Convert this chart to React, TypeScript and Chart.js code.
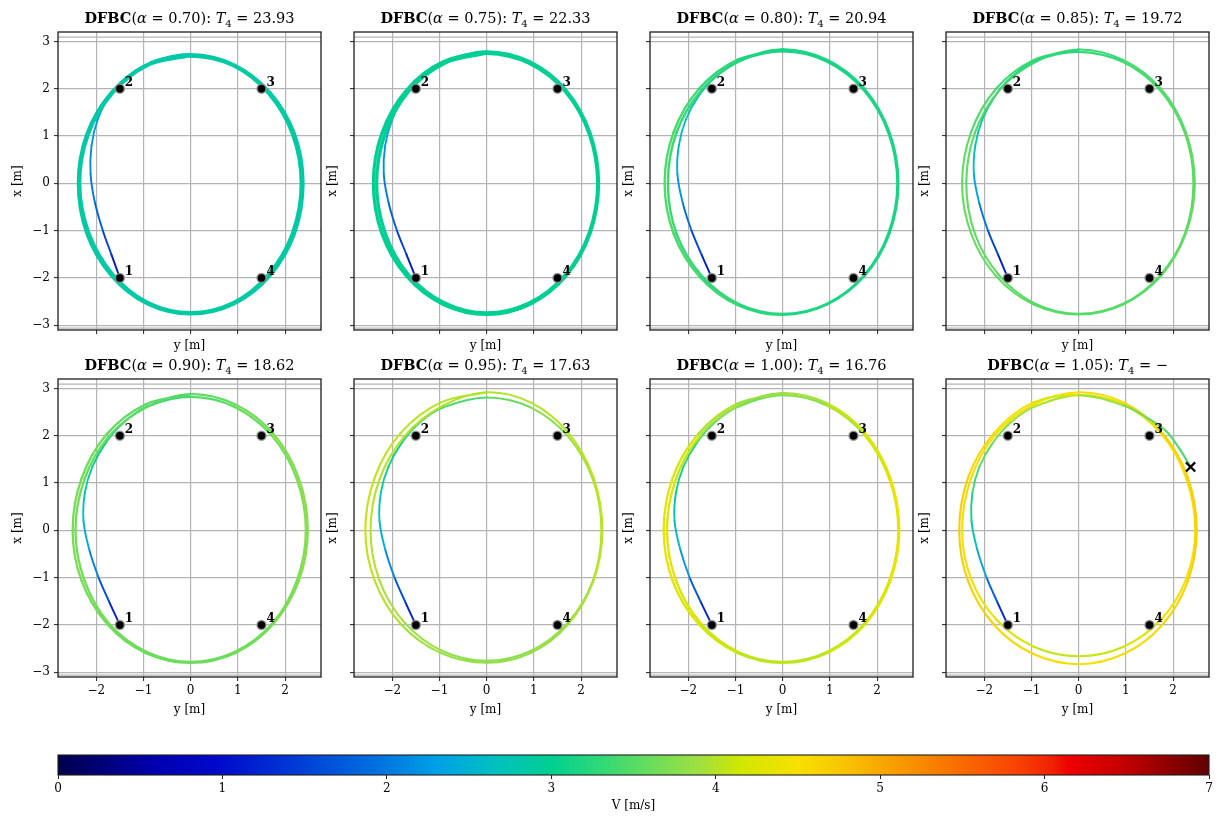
import React, { useEffect, useRef } from 'react';
import { Chart, registerables } from 'chart.js';

Chart.register(...registerables);

// ---------------- data ----------------
const alphaLabels = ['0.70', '0.75', '0.80', '0.85', '0.90', '0.95', '1.00', '1.05'];
const finishTimes = ['23.93', '22.33', '20.94', '19.72', '18.62', '17.63', '16.76', '\u2212'];
const xTickValues = [-2, -1, 0, 1, 2];
const yTickValues = [-3, -2, -1, 0, 1, 2, 3];
const wallLines = [3.09, -3.06];
const waypointY = [-1.5, -1.5, 1.5, 1.5];
const waypointX = [-2, 2, 2, -2];
const waypointLabels = ['1', '2', '3', '4'];
const crashPoint = [2.37, 1.34];
const colorbarTicks = [0, 1, 2, 3, 4, 5, 6, 7];

const cmapStops: [number, string][] = [
  [0.0, '#00004c'], [0.6, '#0000b0'], [0.95, '#0008c8'], [1.35, '#0030d4'],
  [2.0, '#0078e0'], [2.3, '#00a0e8'], [2.65, '#00c0c0'], [3.0, '#00d090'],
  [3.3, '#30d878'], [3.55, '#60dc60'], [3.9, '#a0e040'], [4.15, '#d0e800'],
  [4.5, '#f8e000'], [4.75, '#f8c800'], [5.0, '#f8a800'], [5.45, '#f87000'],
  [5.85, '#f84000'], [6.05, '#f02000'], [6.15, '#ee0000'], [6.45, '#c80000'],
  [7.0, '#600000'],
];

// trajectories: [y, x, V]; the first 10 points are the approach from waypoint 1
const traj070 = [
  [-1.50, -2.00, 0.95], [-1.68, -1.50, 1.30], [-1.86, -1.00, 1.65], [-2.03, -0.40, 1.95],
  [-2.12, 0.20, 2.10], [-2.10, 0.80, 2.20], [-1.97, 1.35, 2.28], [-1.72, 1.85, 2.35],
  [-1.35, 2.25, 2.42], [-0.85, 2.55, 2.55],
  [0.00, 2.72, 2.80], [0.91, 2.51, 2.86], [1.68, 1.92, 2.86], [2.20, 1.04, 2.86],
  [2.38, 0.00, 2.86], [2.20, -1.06, 2.86], [1.68, -1.95, 2.86], [0.91, -2.55, 2.86],
  [0.00, -2.76, 2.86], [-0.91, -2.55, 2.86], [-1.68, -1.95, 2.86], [-2.20, -1.06, 2.86],
  [-2.38, 0.00, 2.86], [-2.20, 1.04, 2.86], [-1.68, 1.92, 2.86], [-0.91, 2.51, 2.86],
  [0.00, 2.69, 2.86], [0.90, 2.49, 2.86], [1.65, 1.90, 2.86], [2.16, 1.03, 2.86],
  [2.34, 0.00, 2.86], [2.16, -1.04, 2.86], [1.65, -1.92, 2.86], [0.90, -2.52, 2.86],
  [0.00, -2.73, 2.86], [-0.90, -2.52, 2.86], [-1.65, -1.92, 2.86], [-2.16, -1.04, 2.86],
  [-2.35, 0.00, 2.86], [-2.17, 1.03, 2.86], [-1.66, 1.90, 2.86], [-0.90, 2.50, 2.86],
  [0.00, 2.70, 2.86],
];

const traj075 = [
  [-1.50, -2.00, 0.95], [-1.70, -1.50, 1.30], [-1.90, -1.00, 1.65], [-2.08, -0.40, 1.95],
  [-2.18, 0.20, 2.12], [-2.15, 0.80, 2.25], [-2.00, 1.35, 2.35], [-1.75, 1.85, 2.45],
  [-1.38, 2.25, 2.60], [-0.88, 2.56, 2.80],
  [0.00, 2.78, 2.95], [0.91, 2.57, 2.97], [1.68, 1.97, 2.97], [2.19, 1.06, 2.97],
  [2.37, 0.00, 2.97], [2.19, -1.06, 2.97], [1.68, -1.96, 2.97], [0.91, -2.56, 2.97],
  [0.00, -2.77, 2.97], [-0.92, -2.56, 2.97], [-1.70, -1.96, 2.97], [-2.22, -1.06, 2.97],
  [-2.40, 0.00, 2.97], [-2.22, 1.06, 2.97], [-1.70, 1.97, 2.97], [-0.92, 2.57, 2.97],
  [0.00, 2.75, 2.97], [0.90, 2.54, 2.97], [1.66, 1.95, 2.97], [2.17, 1.05, 2.97],
  [2.35, 0.00, 2.97], [2.17, -1.05, 2.97], [1.66, -1.94, 2.97], [0.90, -2.53, 2.97],
  [0.00, -2.74, 2.97], [-0.89, -2.53, 2.97], [-1.65, -1.94, 2.97], [-2.15, -1.05, 2.97],
  [-2.33, 0.00, 2.97], [-2.15, 1.05, 2.97], [-1.65, 1.95, 2.97], [-0.89, 2.54, 2.97],
  [0.00, 2.75, 2.97],
];

const traj080 = [
  [-1.50, -2.00, 0.95], [-1.72, -1.50, 1.35], [-1.93, -1.00, 1.75], [-2.12, -0.40, 2.10],
  [-2.23, 0.20, 2.35], [-2.20, 0.80, 2.55], [-2.05, 1.35, 2.70], [-1.78, 1.85, 2.85],
  [-1.40, 2.27, 3.00], [-0.90, 2.60, 3.10],
  [0.00, 2.79, 3.15], [0.93, 2.58, 3.15], [1.72, 1.97, 3.15], [2.24, 1.07, 3.15],
  [2.43, 0.00, 3.15], [2.24, -1.06, 3.15], [1.72, -1.95, 3.15], [0.93, -2.55, 3.18],
  [0.00, -2.76, 3.20], [-0.93, -2.55, 3.25], [-1.72, -1.95, 3.30], [-2.25, -1.06, 3.35],
  [-2.43, 0.00, 3.38], [-2.25, 1.07, 3.35], [-1.72, 1.97, 3.28], [-0.93, 2.58, 3.20],
  [0.00, 2.83, 3.15], [0.94, 2.61, 3.15], [1.73, 2.00, 3.15], [2.26, 1.08, 3.15],
  [2.45, 0.00, 3.15], [2.26, -1.06, 3.15], [1.73, -1.96, 3.15], [0.94, -2.56, 3.18],
  [0.00, -2.78, 3.20], [-0.96, -2.57, 3.30], [-1.77, -1.96, 3.40], [-2.31, -1.06, 3.45],
  [-2.50, 0.00, 3.48], [-2.31, 1.08, 3.45], [-1.77, 2.00, 3.35], [-0.96, 2.61, 3.22],
  [0.00, 2.83, 3.15],
];

const traj085 = [
  [-1.50, -2.00, 0.95], [-1.71, -1.50, 1.35], [-1.92, -1.00, 1.80], [-2.11, -0.40, 2.20],
  [-2.22, 0.20, 2.50], [-2.19, 0.80, 2.75], [-2.04, 1.35, 2.90], [-1.77, 1.85, 3.00],
  [-1.40, 2.27, 3.10], [-0.90, 2.60, 3.20],
  [0.00, 2.78, 3.28], [0.93, 2.57, 3.35], [1.72, 1.97, 3.45], [2.25, 1.06, 3.50],
  [2.43, 0.00, 3.52], [2.25, -1.06, 3.52], [1.72, -1.95, 3.50], [0.93, -2.55, 3.48],
  [0.00, -2.76, 3.48], [-0.91, -2.55, 3.50], [-1.68, -1.95, 3.52], [-2.20, -1.06, 3.55],
  [-2.38, 0.00, 3.55], [-2.20, 1.06, 3.50], [-1.68, 1.97, 3.40], [-0.91, 2.57, 3.32],
  [0.00, 2.83, 3.30], [0.94, 2.61, 3.38], [1.74, 2.00, 3.48], [2.27, 1.08, 3.52],
  [2.46, 0.00, 3.55], [2.27, -1.06, 3.55], [1.74, -1.96, 3.52], [0.94, -2.56, 3.50],
  [0.00, -2.77, 3.50], [-0.95, -2.56, 3.52], [-1.75, -1.96, 3.55], [-2.28, -1.06, 3.58],
  [-2.47, 0.00, 3.58], [-2.28, 1.08, 3.52], [-1.75, 2.00, 3.42], [-0.95, 2.61, 3.32],
  [0.00, 2.83, 3.30],
];

const traj090 = [
  [-1.50, -2.00, 0.95], [-1.73, -1.50, 1.40], [-1.95, -1.00, 1.90], [-2.15, -0.40, 2.30],
  [-2.27, 0.20, 2.60], [-2.24, 0.80, 2.80], [-2.08, 1.35, 2.95], [-1.80, 1.85, 3.05],
  [-1.42, 2.28, 3.15], [-0.92, 2.62, 3.30],
  [0.00, 2.82, 3.45], [0.93, 2.61, 3.55], [1.73, 1.99, 3.65], [2.25, 1.08, 3.72],
  [2.44, 0.00, 3.75], [2.25, -1.06, 3.72], [1.73, -1.97, 3.65], [0.93, -2.57, 3.60],
  [0.00, -2.78, 3.58], [-0.93, -2.57, 3.60], [-1.73, -1.97, 3.62], [-2.25, -1.06, 3.65],
  [-2.44, 0.00, 3.65], [-2.25, 1.08, 3.62], [-1.73, 1.99, 3.55], [-0.93, 2.61, 3.50],
  [0.00, 2.88, 3.50], [0.95, 2.66, 3.60], [1.75, 2.04, 3.68], [2.29, 1.10, 3.75],
  [2.48, 0.00, 3.78], [2.29, -1.07, 3.75], [1.75, -1.98, 3.68], [0.95, -2.59, 3.62],
  [0.00, -2.80, 3.60], [-0.96, -2.59, 3.62], [-1.77, -1.98, 3.65], [-2.31, -1.07, 3.68],
  [-2.50, 0.00, 3.68], [-2.31, 1.10, 3.65], [-1.77, 2.04, 3.58], [-0.96, 2.66, 3.52],
  [0.00, 2.88, 3.50],
];

const traj095 = [
  [-1.50, -2.00, 0.95], [-1.73, -1.50, 1.40], [-1.95, -1.00, 1.90], [-2.15, -0.40, 2.35],
  [-2.27, 0.20, 2.65], [-2.24, 0.80, 2.85], [-2.08, 1.35, 3.00], [-1.80, 1.85, 3.10],
  [-1.42, 2.28, 3.20], [-0.92, 2.60, 3.35],
  [0.00, 2.81, 3.50], [0.93, 2.60, 3.65], [1.72, 1.99, 3.85], [2.25, 1.08, 3.95],
  [2.43, 0.00, 4.00], [2.25, -1.06, 3.95], [1.72, -1.95, 3.85], [0.93, -2.55, 3.80],
  [0.00, -2.76, 3.78], [-0.94, -2.55, 3.82], [-1.74, -1.95, 3.90], [-2.27, -1.06, 3.98],
  [-2.46, 0.00, 4.02], [-2.27, 1.08, 4.02], [-1.74, 1.99, 4.00], [-0.94, 2.63, 3.98],
  [0.00, 2.92, 3.98], [0.94, 2.70, 4.00], [1.73, 2.06, 4.02], [2.26, 1.12, 4.05],
  [2.45, 0.00, 4.05], [2.26, -1.07, 4.00], [1.73, -1.98, 3.90], [0.94, -2.59, 3.82],
  [0.00, -2.80, 3.80], [-0.98, -2.59, 3.85], [-1.82, -1.98, 3.95], [-2.37, -1.07, 4.05],
  [-2.57, 0.00, 4.08], [-2.37, 1.12, 4.08], [-1.82, 2.06, 4.05], [-0.98, 2.70, 4.00],
  [0.00, 2.92, 3.98],
];

const traj100 = [
  [-1.50, -2.00, 0.95], [-1.74, -1.50, 1.45], [-1.97, -1.00, 2.00], [-2.17, -0.40, 2.45],
  [-2.29, 0.20, 2.75], [-2.26, 0.80, 2.95], [-2.10, 1.35, 3.10], [-1.82, 1.85, 3.25],
  [-1.44, 2.28, 3.40], [-0.93, 2.62, 3.55],
  [0.00, 2.86, 3.70], [0.94, 2.64, 3.85], [1.73, 2.02, 4.05], [2.26, 1.09, 4.25],
  [2.45, 0.00, 4.35], [2.26, -1.06, 4.30], [1.73, -1.97, 4.15], [0.94, -2.57, 4.05],
  [0.00, -2.78, 4.00], [-0.94, -2.57, 4.05], [-1.73, -1.97, 4.15], [-2.26, -1.06, 4.28],
  [-2.45, 0.00, 4.32], [-2.26, 1.09, 4.20], [-1.73, 2.02, 3.95], [-0.94, 2.64, 3.80],
  [0.00, 2.90, 3.85], [0.95, 2.68, 4.00], [1.75, 2.05, 4.20], [2.28, 1.11, 4.38],
  [2.47, 0.00, 4.42], [2.28, -1.07, 4.35], [1.75, -1.98, 4.20], [0.95, -2.59, 4.08],
  [0.00, -2.80, 4.02], [-0.96, -2.59, 4.08], [-1.78, -1.98, 4.20], [-2.33, -1.07, 4.35],
  [-2.52, 0.00, 4.40], [-2.33, 1.11, 4.30], [-1.78, 2.05, 4.05], [-0.96, 2.68, 3.90],
  [0.00, 2.90, 3.85],
];

const traj105 = [
  [-1.50, -2.00, 0.95], [-1.73, -1.50, 1.50], [-1.95, -1.00, 2.10], [-2.15, -0.40, 2.60],
  [-2.27, 0.20, 3.00], [-2.25, 0.80, 3.25], [-2.10, 1.35, 3.45], [-1.82, 1.85, 3.60],
  [-1.44, 2.28, 3.75], [-0.93, 2.62, 3.90],
  [0.00, 2.86, 4.05], [0.95, 2.66, 4.25], [1.75, 2.04, 4.45], [2.28, 1.10, 4.55],
  [2.47, 0.00, 4.58], [2.28, -1.02, 4.50], [1.75, -1.88, 4.35], [0.95, -2.46, 4.15],
  [0.00, -2.66, 4.05], [-0.95, -2.46, 4.10], [-1.75, -1.88, 4.30], [-2.28, -1.02, 4.50],
  [-2.47, 0.00, 4.55], [-2.28, 1.10, 4.55], [-1.75, 2.04, 4.50], [-0.95, 2.66, 4.45],
  [0.00, 2.92, 4.50], [0.96, 2.70, 4.58], [1.77, 2.06, 4.65], [2.31, 1.12, 4.68],
  [2.50, 0.00, 4.68], [2.31, -1.08, 4.65], [1.77, -2.00, 4.58], [0.96, -2.61, 4.52],
  [0.00, -2.83, 4.50], [-0.97, -2.61, 4.55], [-1.79, -2.00, 4.62], [-2.34, -1.08, 4.68],
  [-2.53, 0.00, 4.70], [-2.34, 1.12, 4.65], [-1.79, 2.06, 4.55], [-0.97, 2.70, 4.35],
  [0.00, 2.86, 4.05], [0.95, 2.64, 3.75], [1.45, 2.38, 3.60], [1.85, 2.10, 3.50],
  [2.15, 1.70, 3.45], [2.37, 1.34, 3.40],
];

const trajectories = [traj070, traj075, traj080, traj085, traj090, traj095, traj100, traj105];
const approachLength = 10;

// ---------------- layout / style ----------------
const panelLefts = [58, 354, 650, 946];
const rowTops = [32, 379];
const PW = 263;
const PH = 298;
const PAD_L = 50;
const PAD_T = 32;
const PAD_R = 12;
const PAD_B = 45;
const X_MIN = -2.81;
const X_MAX = 2.76;
const Y_MIN = -3.1;
const Y_MAX = 3.2;
const loopWidths = [3.2, 3.2, 2.4, 2.1, 2.3, 2.1, 2.3, 2.1];
const approachWidth = 1.9;
const SERIF = '"DejaVu Serif", "Liberation Serif", serif';

function hexToRgb(h: string) {
  const n = parseInt(h.slice(1), 16);
  return [(n >> 16) & 255, (n >> 8) & 255, n & 255];
}

function cmap(v: number) {
  const s = cmapStops;
  if (v <= s[0][0]) return s[0][1];
  if (v >= s[s.length - 1][0]) return s[s.length - 1][1];
  for (let i = 0; i < s.length - 1; i++) {
    if (v >= s[i][0] && v <= s[i + 1][0]) {
      const t = (v - s[i][0]) / (s[i + 1][0] - s[i][0]);
      const a = hexToRgb(s[i][1]);
      const b = hexToRgb(s[i + 1][1]);
      const c = a.map((av, k) => Math.round(av + (b[k] - av) * t));
      return `rgb(${c[0]},${c[1]},${c[2]})`;
    }
  }
  return s[0][1];
}

function fmtTick(v: number) {
  return v < 0 ? '\u2212' + Math.abs(v) : String(v);
}

function drawTitle(ctx: CanvasRenderingContext2D, cx: number, base: number, alpha: string, t: string) {
  const size = 14.5;
  const parts = [
    { t: 'DFBC', f: `bold ${size}px ${SERIF}`, dy: 0 },
    { t: '(', f: `${size}px ${SERIF}`, dy: 0 },
    { t: '\u03b1', f: `italic ${size}px ${SERIF}`, dy: 0 },
    { t: ` = ${alpha}): `, f: `${size}px ${SERIF}`, dy: 0 },
    { t: 'T', f: `italic ${size}px ${SERIF}`, dy: 0 },
    { t: '4', f: `${Math.round(size * 0.7)}px ${SERIF}`, dy: 3.5 },
    { t: ` = ${t}`, f: `${size}px ${SERIF}`, dy: 0 },
  ];
  let total = 0;
  const widths: number[] = [];
  parts.forEach((p) => {
    ctx.font = p.f;
    const w = ctx.measureText(p.t).width;
    widths.push(w);
    total += w;
  });
  let x = cx - total / 2;
  ctx.fillStyle = '#000';
  ctx.textBaseline = 'alphabetic';
  ctx.textAlign = 'left';
  parts.forEach((p, i) => {
    ctx.font = p.f;
    ctx.fillText(p.t, x, base + p.dy);
    x += widths[i];
  });
}

function Panel({ idx }: { idx: number }) {
  const ref = useRef<HTMLCanvasElement>(null);
  const col = idx % 4;
  const row = Math.floor(idx / 4);
  useEffect(() => {
    if (!ref.current) return;
    const traj = trajectories[idx];
    const pts = traj.map((p) => ({ x: p[0], y: p[1] }));
    const speeds = traj.map((p) => p[2]);
    const datasets: any[] = [];
    if (idx === 7) {
      datasets.push({
        data: [{ x: crashPoint[0], y: crashPoint[1] }],
        showLine: false,
        pointStyle: 'crossRot',
        pointRadius: 6.5,
        pointBorderColor: '#000',
        pointBorderWidth: 2.2,
        order: 0,
      });
    }
    datasets.push({
      data: waypointY.map((y, i) => ({ x: y, y: waypointX[i] })),
      showLine: false,
      pointRadius: 4.5,
      pointBackgroundColor: '#000',
      pointBorderColor: 'rgba(150,150,150,0.8)',
      pointBorderWidth: 1.6,
      order: 1,
    });
    datasets.push({
      data: pts,
      showLine: true,
      pointRadius: 0,
      borderWidth: loopWidths[idx],
      tension: 0.35,
      borderColor: cmap(speeds[0]),
      borderCapStyle: 'round',
      borderJoinStyle: 'round',
      segment: {
        borderColor: (c: any) => cmap((speeds[c.p0DataIndex] + speeds[c.p1DataIndex]) / 2),
        borderWidth: (c: any) => (c.p1DataIndex < approachLength ? approachWidth : loopWidths[idx]),
      },
      order: 2,
    });

    const gridCfg = {
      color: 'rgba(180,180,180,1)',
      lineWidth: 1.2,
      drawTicks: true,
      tickLength: 4,
      tickColor: '#222',
      tickWidth: 1,
    };

    const panelPlugin = {
      id: 'panelDecor' + idx,
      beforeDatasetsDraw(chart: any) {
        const { ctx, chartArea } = chart;
        const ys = chart.scales.y;
        ctx.save();
        ctx.strokeStyle = 'rgba(180,180,180,1)';
        ctx.lineWidth = 1.2;
        wallLines.forEach((w) => {
          const py = ys.getPixelForValue(w);
          ctx.beginPath();
          ctx.moveTo(chartArea.left, py);
          ctx.lineTo(chartArea.right, py);
          ctx.stroke();
        });
        ctx.restore();
      },
      afterDatasetsDraw(chart: any) {
        const { ctx, chartArea } = chart;
        const xs = chart.scales.x;
        const ys = chart.scales.y;
        ctx.save();
        ctx.fillStyle = '#000';
        ctx.font = `bold 12px ${SERIF}`;
        ctx.textAlign = 'left';
        ctx.textBaseline = 'alphabetic';
        waypointLabels.forEach((lab, i) => {
          const px = xs.getPixelForValue(waypointY[i]);
          const py = ys.getPixelForValue(waypointX[i]);
          ctx.fillText(lab, px + 5, py - 3);
        });
        // frame
        ctx.strokeStyle = '#1e1e1e';
        ctx.lineWidth = 1.3;
        ctx.strokeRect(chartArea.left, chartArea.top, chartArea.right - chartArea.left, chartArea.bottom - chartArea.top);
        // title
        drawTitle(ctx, (chartArea.left + chartArea.right) / 2, chartArea.top - 9, alphaLabels[idx], finishTimes[idx]);
        // axis labels
        ctx.font = `12px ${SERIF}`;
        ctx.fillStyle = '#000';
        ctx.textAlign = 'center';
        ctx.textBaseline = 'middle';
        ctx.fillText('y [m]', (chartArea.left + chartArea.right) / 2, chartArea.bottom + (row === 0 ? 16 : 33));
        ctx.save();
        ctx.translate(chartArea.left - (col === 0 ? 40 : 21), (chartArea.top + chartArea.bottom) / 2);
        ctx.rotate(-Math.PI / 2);
        ctx.fillText('x [m]', 0, 0);
        ctx.restore();
        ctx.restore();
      },
    };

    const chart = new Chart(ref.current, {
      type: 'scatter',
      data: { datasets },
      options: {
        animation: false,
        responsive: false,
        maintainAspectRatio: false,
        events: [],
        layout: { padding: { top: PAD_T, left: 0, right: PAD_R, bottom: 0 } },
        plugins: { legend: { display: false }, tooltip: { enabled: false }, title: { display: false } },
        scales: {
          x: {
            type: 'linear',
            min: X_MIN,
            max: X_MAX,
            afterBuildTicks: (s: any) => {
              s.ticks = xTickValues.map((v) => ({ value: v }));
            },
            afterFit: (s: any) => {
              s.height = PAD_B;
              s.paddingLeft = 0;
              s.paddingRight = 0;
            },
            ticks: {
              autoSkip: false,
              maxRotation: 0,
              padding: 3,
              color: '#000',
              font: { family: SERIF, size: 12 },
              callback: (v: any) => (row === 1 ? fmtTick(Number(v)) : ''),
            },
            grid: gridCfg,
            border: { display: false },
          },
          y: {
            type: 'linear',
            min: Y_MIN,
            max: Y_MAX,
            afterBuildTicks: (s: any) => {
              s.ticks = yTickValues.map((v) => ({ value: v }));
            },
            afterFit: (s: any) => {
              s.width = PAD_L;
              s.paddingTop = 0;
              s.paddingBottom = 0;
            },
            ticks: {
              autoSkip: false,
              padding: 4,
              color: '#000',
              font: { family: SERIF, size: 12 },
              callback: (v: any) => (col === 0 ? fmtTick(Number(v)) : ''),
            },
            grid: gridCfg,
            border: { display: false },
          },
        },
      } as any,
      plugins: [panelPlugin],
    });
    return () => chart.destroy();
  }, [idx]);

  const w = PAD_L + PW + PAD_R;
  const h = PAD_T + PH + PAD_B;
  return (
    <canvas
      ref={ref}
      width={w}
      height={h}
      style={{ position: 'absolute', left: panelLefts[col] - PAD_L, top: rowTops[row] - PAD_T, width: w, height: h }}
    />
  );
}

function ColorBar() {
  const ref = useRef<HTMLCanvasElement>(null);
  useEffect(() => {
    if (!ref.current) return;
    const plugin = {
      id: 'cbar',
      afterDraw(chart: any) {
        const { ctx, chartArea } = chart;
        const g = ctx.createLinearGradient(chartArea.left, 0, chartArea.right, 0);
        cmapStops.forEach(([v, c]) => g.addColorStop(v / 7, c));
        ctx.save();
        ctx.fillStyle = g;
        ctx.fillRect(chartArea.left, chartArea.top, chartArea.right - chartArea.left, chartArea.bottom - chartArea.top);
        ctx.strokeStyle = '#1e1e1e';
        ctx.lineWidth = 1.1;
        ctx.strokeRect(chartArea.left, chartArea.top, chartArea.right - chartArea.left, chartArea.bottom - chartArea.top);
        ctx.fillStyle = '#000';
        ctx.font = `12px ${SERIF}`;
        ctx.textAlign = 'center';
        ctx.textBaseline = 'middle';
        ctx.fillText('V [m/s]', (chartArea.left + chartArea.right) / 2, chartArea.bottom + 31);
        ctx.restore();
      },
    };
    const chart = new Chart(ref.current, {
      type: 'scatter',
      data: { datasets: [] },
      options: {
        animation: false,
        responsive: false,
        events: [],
        layout: { padding: { top: 20, left: 58, right: 8, bottom: 0 } },
        plugins: { legend: { display: false }, tooltip: { enabled: false } },
        scales: {
          x: {
            type: 'linear',
            min: 0,
            max: 7,
            afterBuildTicks: (s: any) => {
              s.ticks = colorbarTicks.map((v) => ({ value: v }));
            },
            afterFit: (s: any) => {
              s.height = 45;
              s.paddingLeft = 0;
              s.paddingRight = 0;
            },
            ticks: { autoSkip: false, maxRotation: 0, padding: 3, color: '#000', font: { family: SERIF, size: 12 } },
            grid: { drawOnChartArea: false, drawTicks: true, tickLength: 4, tickColor: '#222', tickWidth: 1 },
            border: { display: false },
          },
          y: { display: false, min: 0, max: 1 },
        },
      } as any,
      plugins: [plugin],
    });
    return () => chart.destroy();
  }, []);
  return (
    <canvas ref={ref} width={1217} height={85} style={{ position: 'absolute', left: 0, top: 735, width: 1217, height: 85 }} />
  );
}

export default function App() {
  return (
    <div style={{ position: 'absolute', left: 0, top: 0, width: 1217, height: 820, background: '#fff', overflow: 'hidden' }}>
      {trajectories.map((_, i) => (
        <Panel key={i} idx={i} />
      ))}
      <ColorBar />
    </div>
  );
}
